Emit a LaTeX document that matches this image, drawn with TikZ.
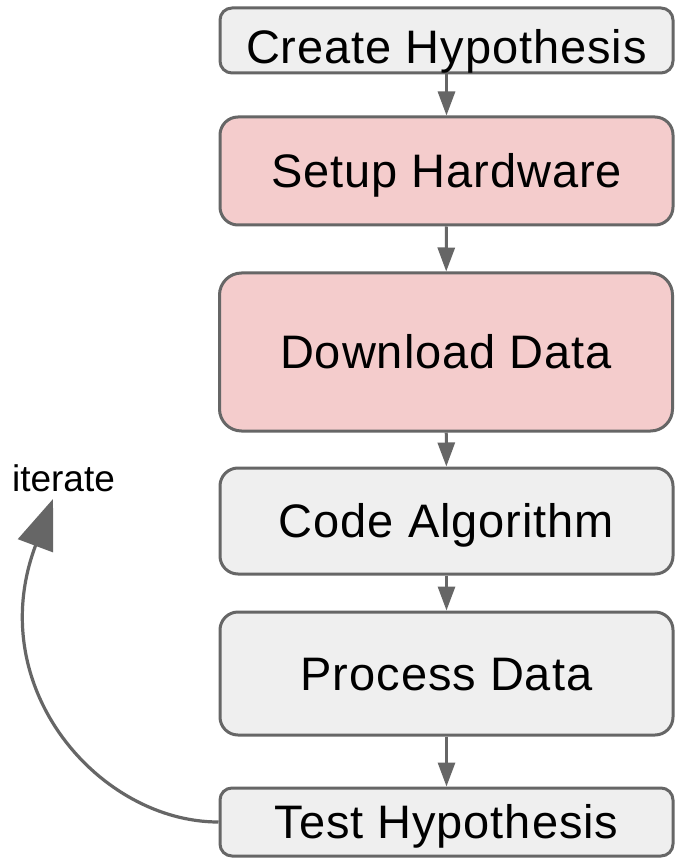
\documentclass[tikz,border=0pt]{standalone}
\usepackage{fontspec}
\setmainfont{Liberation Sans}
\newfontfamily\boxfont[LetterSpace=2]{Liberation Sans}
\usetikzlibrary{arrows.meta}
\definecolor{boxgray}{HTML}{EFEFEF}
\definecolor{boxpink}{HTML}{F4CCCC}
\definecolor{edgegray}{HTML}{666666}
\begin{document}
\begin{tikzpicture}[x=1pt,y=-1pt,
 stepbox/.style={draw=edgegray, line width=3pt, rounded corners=15pt, minimum width=453pt, inner sep=0pt, font=\boxfont\fontsize{47}{50}\selectfont, text height=34pt, text depth=1pt},
 graybox/.style={stepbox, fill=boxgray},
 pinkbox/.style={stepbox, fill=boxpink},
 flow/.style={draw=edgegray, line width=3pt, -{Triangle[length=24pt,width=17pt]}},
 loopflow/.style={draw=edgegray, line width=3.2pt, -{Triangle[length=50pt,width=37pt]}},
]
\useasboundingbox (0,0) rectangle (675,858);
\fill[white] (0,0) rectangle (675,858);
\node[graybox, minimum height=65pt, rounded corners=12pt, text height=47pt, text depth=0pt] (create) at (446.5,40.5) {Create Hypothesis};
\node[pinkbox, minimum height=108pt, rounded corners=18pt] (setup) at (446.5,171) {Setup Hardware};
\node[pinkbox, minimum height=158pt, rounded corners=22pt] (download) at (446,352) {Download Data};
\node[graybox, minimum height=106pt, rounded corners=18pt] (code) at (446.5,521) {Code Algorithm};
\node[graybox, minimum height=123pt, rounded corners=18pt] (process) at (446.5,673.5) {Process Data};
\node[graybox, minimum height=68pt, rounded corners=12pt] (test) at (446.5,822) {Test Hypothesis};
\node[font=\fontsize{37}{40}\selectfont, anchor=base, inner sep=0pt] (iter) at (63.5,491) {iterate};
\coordinate (itend) at (53,499);
\draw[flow] (create) -- (setup);
\draw[flow] (setup) -- (download);
\draw[flow] (download) -- (code);
\draw[flow] (code) -- (process);
\draw[flow] (process) -- (test);
\draw[loopflow] (test.west) .. controls (100,822) and (-17,689) .. (35,547) -- (itend);
\end{tikzpicture}
\end{document}
